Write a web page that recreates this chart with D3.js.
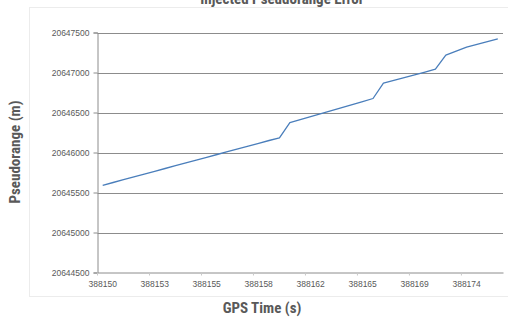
<!DOCTYPE html>
<html>
<head>
<meta charset="utf-8">
<script src="https://cdn.jsdelivr.net/npm/d3@7"></script>
<style>
body { margin: 0; background: #fff; }
text { fill: #595959; }
</style>
</head>
<body>
<script>
// GPS time (s) per sample, shown rounded
var times = [388150, 388150, 388151, 388151, 388152, 388153, 388153, 388154, 388154, 388155,
    388155, 388156, 388156, 388157, 388157, 388158, 388159, 388160, 388160, 388161,
    388162, 388162, 388163, 388164, 388164, 388165, 388166, 388167, 388167, 388168,
    388169, 388170, 388171, 388172, 388173, 388174, 388175, 388175, 388176];

// pseudorange (m)
var pseudorange = [20645590, 20645625, 20645660, 20645695, 20645730, 20645765, 20645800, 20645835, 20645870, 20645905,
    20645940, 20645975, 20646010, 20646045, 20646080, 20646115, 20646150, 20646182, 20646372, 20646410,
    20646447, 20646485, 20646523, 20646561, 20646599, 20646637, 20646675, 20646866, 20646901, 20646936,
    20646971, 20647006, 20647042, 20647217, 20647268, 20647317, 20647352, 20647387, 20647421];

var yTicks = [20644500, 20645000, 20645500, 20646000, 20646500, 20647000, 20647500];

var width = 508, height = 318;
var plotLeft = 97.5, plotRight = 503, plotTop = 32.5, plotBottom = 272.5;

var svg = d3.select("body").append("svg")
    .attr("width", width)
    .attr("height", height);

// faint chart-area border
svg.append("rect")
    .attr("x", 29.5).attr("y", 7.5)
    .attr("width", 500).attr("height", 289)
    .attr("fill", "none")
    .attr("stroke", "#ececec");

var x = d3.scaleBand()
    .domain(d3.range(times.length))
    .range([plotLeft, plotRight]);

var y = d3.scaleLinear()
    .domain([20644500, 20647500])
    .range([plotBottom, plotTop]);

// gridlines
svg.append("g")
    .selectAll("line")
    .data(yTicks.slice(1))
    .enter()
    .append("line")
        .attr("x1", plotLeft).attr("x2", plotRight)
        .attr("y1", function (d) { return Math.round(y(d)) + 0.5; })
        .attr("y2", function (d) { return Math.round(y(d)) + 0.5; })
        .attr("stroke", "#8c8c8c")
        .attr("stroke-width", 1);

// y axis
var yAxis = svg.append("g")
    .attr("transform", "translate(" + plotLeft + ",0)")
    .call(d3.axisLeft(y).tickValues(yTicks).tickSize(4).tickPadding(4).tickFormat(d3.format("d")));
yAxis.select(".domain").attr("stroke", "#8c8c8c");
yAxis.selectAll(".tick line").attr("stroke", "#8c8c8c");
yAxis.selectAll("text")
    .attr("font-family", "Liberation Sans, Arial, sans-serif")
    .attr("font-size", 8.5)
    .attr("fill", "#595959");

// x axis
var xAxis = svg.append("g")
    .attr("transform", "translate(0," + plotBottom + ")")
    .call(d3.axisBottom(x)
        .tickValues(d3.range(0, times.length, 5))
        .tickSize(0).tickPadding(8)
        .tickFormat(function (i) { return times[i]; }));
xAxis.select(".domain").attr("stroke", "#8c8c8c");
xAxis.selectAll("text")
    .attr("font-family", "Liberation Sans, Arial, sans-serif")
    .attr("font-size", 8.5)
    .attr("fill", "#595959");

// minor category ticks
svg.append("g")
    .selectAll("line")
    .data(d3.range(0, times.length + 1, 5))
    .enter()
    .append("line")
        .attr("x1", function (i) { return x.step() * i + plotLeft; })
        .attr("x2", function (i) { return x.step() * i + plotLeft; })
        .attr("y1", plotBottom).attr("y2", plotBottom + 3)
        .attr("stroke", "#c8c8c8");

// the series
var line = d3.line()
    .x(function (d, i) { return x(i) + x.bandwidth() / 2; })
    .y(function (d) { return y(d); });

svg.append("path")
    .datum(pseudorange)
    .attr("d", line)
    .attr("fill", "none")
    .attr("stroke", "#4a7ebb")
    .attr("stroke-width", 1.3)
    .attr("stroke-linejoin", "round");

// titles
var titleFont = "'Liberation Sans Narrow', 'Roboto Condensed', Arial, sans-serif";

svg.append("text")
    .attr("x", 282).attr("y", 4)
    .attr("text-anchor", "middle")
    .attr("font-family", titleFont)
    .attr("font-weight", "bold")
    .attr("font-size", 15)
    .text("Injected Pseudorange Error");

svg.append("text")
    .attr("transform", "translate(20,152) rotate(-90)")
    .attr("text-anchor", "middle")
    .attr("font-family", titleFont)
    .attr("font-weight", "bold")
    .attr("font-size", 15)
    .text("Pseudorange (m)");

svg.append("text")
    .attr("x", 262).attr("y", 313)
    .attr("text-anchor", "middle")
    .attr("font-family", titleFont)
    .attr("font-weight", "bold")
    .attr("font-size", 15)
    .text("GPS Time (s)");
</script>
</body>
</html>
